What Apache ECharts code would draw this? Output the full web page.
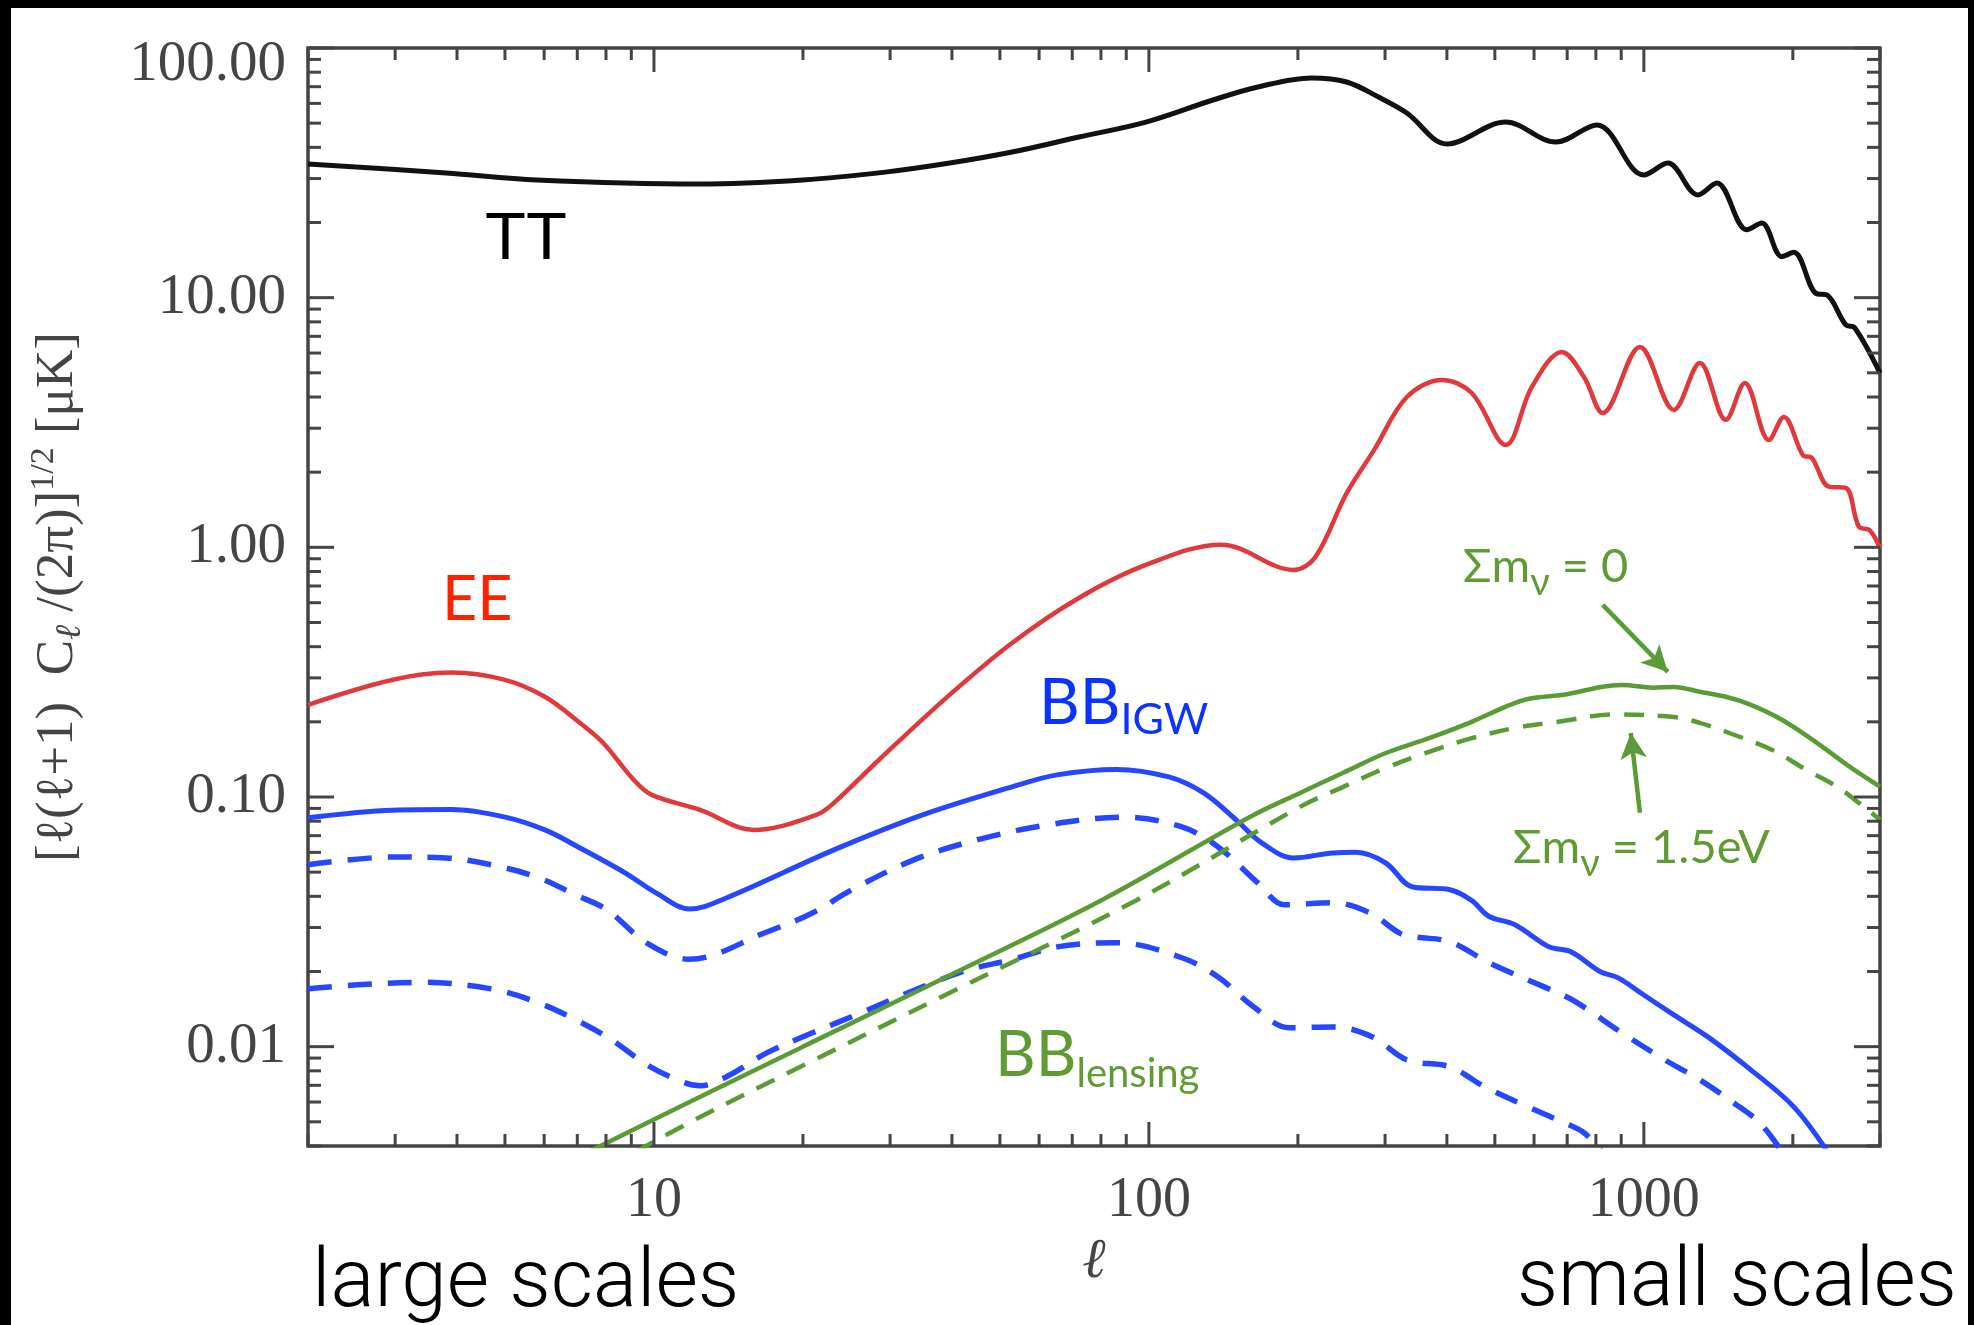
<!DOCTYPE html>
<html>
<head>
<meta charset="utf-8">
<script src="https://cdn.jsdelivr.net/npm/echarts@6/dist/echarts.min.js"></script>
<style>
  html, body { margin: 0; padding: 0; background: #fff; }
  #chart { width: 1974px; height: 1325px; }
</style>
</head>
<body>
<div id="chart"></div>
<script>
// ---------------- data ----------------
const xTickLabels = [10, 100, 1000];
const yTickLabels = [0.01, 0.1, 1, 10, 100];

const ellTT = [2, 3.8, 5.8, 12.4, 20, 29.6, 39.6, 52.9, 72.2, 98.6, 134.7, 166, 213, 251, 291, 332, 400, 526, 664, 804, 1000, 1118, 1286, 1404, 1615, 1731, 1900, 2009, 2226, 2343, 2559, 2669, 3000];
const valTT = [34.3, 31.6, 29.6, 28.5, 29.6, 31.9, 34.6, 38.3, 44.0, 50.5, 61.9, 69.8, 75.9, 73.1, 63.6, 54.9, 41.3, 50.5, 42.0, 49.2, 31.0, 34.6, 25.8, 28.8, 18.7, 19.9, 14.6, 15.2, 10.4, 10.25, 7.78, 7.56, 4.99];

const ellEE = [2, 2.97, 3.9, 4.98, 6.02, 7.09, 7.89, 9.11, 9.9, 12.4, 15.9, 21.3, 23.1, 28.5, 38.9, 52.9, 72.2, 98.6, 140, 196, 217, 251, 285, 332, 391, 449, 526, 594, 683, 757, 826, 982, 1150, 1298, 1464, 1600, 1789, 1918, 2096, 2185, 2364, 2559, 2719, 2861, 3000];
const valEE = [0.234, 0.295, 0.315, 0.295, 0.252, 0.198, 0.165, 0.117, 0.102, 0.0888, 0.0738, 0.0848, 0.0947, 0.141, 0.249, 0.414, 0.627, 0.85, 1.025, 0.812, 0.915, 1.65, 2.45, 4.0, 4.68, 4.15, 2.57, 4.39, 6.06, 4.81, 3.45, 6.35, 3.55, 5.48, 3.24, 4.55, 2.69, 3.33, 2.34, 2.28, 1.75, 1.73, 1.21, 1.17, 0.994];

const ellBBigw = [2, 2.97, 3.9, 4.98, 6.02, 7.09, 8.74, 10.1, 11.8, 14.0, 23.1, 34.9, 52.9, 65.2, 86, 109.7, 129, 150, 169, 196, 236, 262, 301, 340, 406, 449, 486, 549, 643, 712, 819, 886, 1000, 1150, 1347, 1645, 2009, 2360];
const valBBigw = [0.0825, 0.0885, 0.089, 0.0832, 0.0738, 0.0625, 0.0497, 0.0413, 0.0356, 0.0394, 0.0614, 0.0848, 0.1098, 0.1226, 0.129, 0.1203, 0.1038, 0.081, 0.0655, 0.057, 0.0597, 0.060, 0.0544, 0.0437, 0.0425, 0.0385, 0.0333, 0.0308, 0.0251, 0.024, 0.0199, 0.0189, 0.0161, 0.0134, 0.01094, 0.00807, 0.00574, 0.00375];

const ellBBdashA = [2, 2.97, 3.8, 4.69, 5.78, 6.96, 8.04, 9.68, 11.8, 16.9, 20.9, 25.1, 33.5, 44.9, 62.5, 89, 116.6, 138, 166, 188, 236, 280, 321, 346, 406, 486, 583, 699, 757, 903, 1103, 1298, 1520, 1715, 1900];
const valBBdashA = [0.0535, 0.0575, 0.057, 0.0535, 0.0479, 0.0405, 0.0353, 0.026, 0.0224, 0.0288, 0.0343, 0.0425, 0.056, 0.0673, 0.0773, 0.083, 0.0759, 0.0631, 0.0453, 0.037, 0.0377, 0.0343, 0.0285, 0.0275, 0.0263, 0.0217, 0.0185, 0.0158, 0.0144, 0.01136, 0.00885, 0.00736, 0.00595, 0.00495, 0.0038];

const ellBBdashB = [2, 2.51, 3.4, 4.69, 5.78, 6.96, 8.22, 9.68, 11.4, 12.4, 14.0, 16.9, 20.9, 25.6, 34.9, 43.1, 52.9, 65.2, 86, 116.6, 138, 163, 192, 236, 283, 332, 406, 477, 583, 683, 757, 830];
const valBBdashB = [0.01704, 0.01768, 0.0181, 0.01704, 0.01511, 0.0128, 0.01064, 0.00846, 0.00723, 0.00697, 0.00757, 0.00944, 0.01136, 0.0134, 0.01736, 0.0203, 0.0223, 0.0251, 0.0261, 0.0227, 0.019, 0.0144, 0.0119, 0.012, 0.01094, 0.00885, 0.0083, 0.0069, 0.00574, 0.005, 0.00452, 0.0037];

const ellLens0 = [7.2, 12.4, 20, 40, 80.4, 160, 202, 247, 301, 368, 449, 526, 583, 699, 819, 903, 1043, 1150, 1298, 1464, 1645, 1900, 2226, 2608, 3000];
const valLens0 = [0.0037, 0.0063, 0.0100, 0.0195, 0.0387, 0.0832, 0.1038, 0.125, 0.150, 0.172, 0.200, 0.230, 0.247, 0.258, 0.276, 0.281, 0.274, 0.276, 0.264, 0.252, 0.234, 0.204, 0.166, 0.132, 0.110];

const ellLens15 = [9.2, 12.4, 20, 40, 94.6, 202, 247, 301, 368, 449, 549, 671, 870, 1150, 1298, 1492, 1822, 2135, 2455, 2719, 3000];
const valLens15 = [0.0038, 0.00523, 0.0084, 0.0166, 0.0387, 0.0913, 0.1098, 0.1308, 0.1516, 0.172, 0.189, 0.200, 0.214, 0.209, 0.198, 0.180, 0.154, 0.128, 0.110, 0.0947, 0.081];

// ---------------- helpers ----------------
const pairs = (ls, vs) => ls.map((l, i) => [l, vs[i]]);

// minor/major tick positions of the log axes (boxed IDL-style frame)
const tickData = [];
for (let d = 1; d <= 1000; d *= 10) {
  for (let k = 1; k <= 9; k++) {
    const v = k * d;
    if (v < 2 || v > 3000) continue;
    tickData.push([v, 1, k === 1 ? 1 : 0]);
  }
}
for (let d = 0.001; d <= 100; d *= 10) {
  for (let k = 1; k <= 9; k++) {
    const v = +(k * d).toPrecision(6);
    if (v < 0.004 || v > 100.0001) continue;
    tickData.push([10, v, k === 1 ? 3 : 2]);
  }
}

const GREEN = '#5b9b36';
const GREEN_TXT = '#5f9a33';
const BLUE = '#2647ff';
const RED = '#e0393b';
const AX = '#444';
const SERIF = '"Liberation Serif", "DejaVu Serif", serif';
const GILL = 'Lato, "Open Sans", sans-serif';
const SM = 0.35;

function isPow10(v) {
  const e = Math.log10(v);
  return Math.abs(e - Math.round(e)) < 1e-6;
}

const chart = echarts.init(document.getElementById('chart'), null, { renderer: 'canvas' });

const option = {
  animation: false,
  backgroundColor: '#fff',
  grid: {
    left: 308, top: 48, width: 1572, height: 1098,
    show: true, borderColor: AX, borderWidth: 3.5, backgroundColor: 'transparent',
    outerBoundsMode: 'none'
  },
  xAxis: {
    type: 'log', logBase: 10, min: 2, max: 3000,
    axisLine: { show: false },
    axisTick: { show: false },
    splitLine: { show: false },
    axisLabel: {
      margin: 27, fontFamily: SERIF, fontSize: 56, color: AX,
      formatter: v => (isPow10(v) && xTickLabels.some(t => Math.abs(t - v) < 1e-6)) ? String(Math.round(v)) : ''
    },
    name: 'ℓ', nameLocation: 'middle', nameGap: 88,
    nameTextStyle: { fontFamily: SERIF, fontStyle: 'italic', fontSize: 56, color: AX, lineHeight: 56 }
  },
  yAxis: {
    type: 'log', logBase: 10, min: 0.004, max: 100,
    axisLine: { show: false },
    axisTick: { show: false },
    splitLine: { show: false },
    axisLabel: {
      margin: 22, fontFamily: SERIF, fontSize: 57, color: AX,
      formatter: v => {
        if (!isPow10(v) || !yTickLabels.some(t => Math.abs(t / v - 1) < 1e-6)) return '';
        if (v >= 99) return '{t|' + v.toFixed(2) + '}';
        return v.toFixed(2);
      },
      rich: { t: { fontFamily: SERIF, fontSize: 57, color: AX, padding: [34, 0, 0, 0] } }
    },
    name: '{m|[ℓ(ℓ+1)  C}{s|ℓ}{m| /(2π)]}{p|1/2}{m| [μK]}',
    nameLocation: 'middle', nameGap: 219, nameRotate: 90,
    nameTextStyle: {
      rich: {
        m: { fontFamily: SERIF, fontSize: 53, color: AX, lineHeight: 62 },
        s: { fontFamily: SERIF, fontStyle: 'italic', fontSize: 36, color: AX, lineHeight: 42, verticalAlign: 'bottom' },
        p: { fontFamily: SERIF, fontSize: 34, color: AX, lineHeight: 38, verticalAlign: 'top' }
      }
    }
  },
  graphic: [
    { type: 'rect', shape: { x: 0, y: 0, width: 1974, height: 8 }, style: { fill: '#000' }, z: 100 },
    { type: 'rect', shape: { x: 0, y: 0, width: 11, height: 1325 }, style: { fill: '#000' }, z: 100 },
    { type: 'rect', shape: { x: 1968, y: 0, width: 6, height: 1325 }, style: { fill: '#000' }, z: 100 },
    { type: 'text', x: 485, y: 241, z: 100,
      style: { text: 'TT', fontFamily: '"Liberation Sans", Arial, sans-serif', fontSize: 67, fill: '#000', align: 'left', verticalAlign: 'middle' } },
    { type: 'text', x: 442, y: 600, z: 100,
      style: { text: 'EE', fontFamily: GILL, fontSize: 61, fill: '#ff2200', align: 'left', verticalAlign: 'middle' } },
    { type: 'text', x: 1039, y: 704, z: 100,
      style: { text: '{a|BB}{s|IGW}', align: 'left', verticalAlign: 'middle',
        rich: { a: { fontFamily: GILL, fontSize: 63, fill: '#0a33ff', lineHeight: 76 },
                s: { fontFamily: GILL, fontSize: 43, fill: '#0a33ff', lineHeight: 48, verticalAlign: 'bottom' } } } },
    { type: 'text', x: 995, y: 1056, z: 100,
      style: { text: '{a|BB}{s|lensing}', align: 'left', verticalAlign: 'middle',
        rich: { a: { fontFamily: GILL, fontSize: 63, fill: GREEN_TXT, lineHeight: 76 },
                s: { fontFamily: GILL, fontSize: 40, fill: GREEN_TXT, lineHeight: 56, verticalAlign: 'bottom' } } } },
    { type: 'text', x: 1463, y: 567, z: 100,
      style: { text: '{a|Σm}{s|ν}{a| = 0}', align: 'left', verticalAlign: 'middle',
        rich: { a: { fontFamily: GILL, fontSize: 47, fill: GREEN_TXT, lineHeight: 70 },
                s: { fontFamily: GILL, fontSize: 38, fill: GREEN_TXT, lineHeight: 62, verticalAlign: 'bottom' } } } },
    { type: 'text', x: 1513, y: 848, z: 100,
      style: { text: '{a|Σm}{s|ν}{a| = 1.5eV}', align: 'left', verticalAlign: 'middle',
        rich: { a: { fontFamily: GILL, fontSize: 47, fill: GREEN_TXT, lineHeight: 70 },
                s: { fontFamily: GILL, fontSize: 38, fill: GREEN_TXT, lineHeight: 62, verticalAlign: 'bottom' } } } },
    { type: 'text', x: 312, y: 1285, z: 100,
      style: { text: 'large scales', fontFamily: 'Roboto, "Liberation Sans", sans-serif', fontWeight: 300, fontSize: 82, fill: '#000', align: 'left', verticalAlign: 'middle' } },
    { type: 'text', x: 1517, y: 1285, z: 100,
      style: { text: 'small scales', fontFamily: 'Roboto, "Liberation Sans", sans-serif', fontWeight: 300, fontSize: 81, fill: '#000', align: 'left', verticalAlign: 'middle' } }
  ],
  series: [
    { name: 'TT', type: 'line', data: pairs(ellTT, valTT), showSymbol: false, smooth: SM,
      lineStyle: { color: '#111', width: 5 }, z: 3 },
    { name: 'EE', type: 'line', data: pairs(ellEE, valEE), showSymbol: false, smooth: SM,
      lineStyle: { color: RED, width: 4.5 }, z: 3 },
    { name: 'BB IGW', type: 'line', data: pairs(ellBBigw, valBBigw), showSymbol: false, smooth: SM,
      lineStyle: { color: BLUE, width: 5 }, z: 3 },
    { name: 'BB IGW (dashed, upper)', type: 'line', data: pairs(ellBBdashA, valBBdashA), showSymbol: false, smooth: SM,
      lineStyle: { color: BLUE, width: 5.5, type: [24, 16] }, z: 3 },
    { name: 'BB IGW (dashed, lower)', type: 'line', data: pairs(ellBBdashB, valBBdashB), showSymbol: false, smooth: SM,
      lineStyle: { color: BLUE, width: 5.5, type: [24, 16] }, z: 3 },
    { name: 'BB lensing Σmν=0', type: 'line', data: pairs(ellLens0, valLens0), showSymbol: false, smooth: SM,
      lineStyle: { color: GREEN, width: 4.5 }, z: 3,
      markLine: {
        silent: true, symbol: ['none', 'arrow'], symbolSize: [20, 26],
        label: { show: false },
        lineStyle: { color: GREEN, width: 4.5, type: 'solid' },
        emphasis: { disabled: true },
        data: [
          [{ coord: [826, 0.588] }, { coord: [1118, 0.317] }],
          [{ coord: [982, 0.0864] }, { coord: [941, 0.1805] }]
        ]
      } },
    { name: 'BB lensing Σmν=1.5eV', type: 'line', data: pairs(ellLens15, valLens15), showSymbol: false, smooth: SM,
      lineStyle: { color: GREEN, width: 4.5, type: [20, 14] }, z: 3 },
    { name: 'ticks', type: 'custom', data: tickData, silent: true, z: 10, clip: false,
      renderItem: (params, api) => {
        const cs = params.coordSys;
        const kind = api.value(2);
        const st = { stroke: AX, lineWidth: 3 };
        if (kind < 2) {
          const px = api.coord([api.value(0), 1])[0];
          const len = kind === 1 ? 24 : 12;
          const yb = cs.y + cs.height;
          return { type: 'group', children: [
            { type: 'line', shape: { x1: px, y1: yb, x2: px, y2: yb - len }, style: st },
            { type: 'line', shape: { x1: px, y1: cs.y, x2: px, y2: cs.y + len }, style: st }
          ] };
        }
        const py = api.coord([10, api.value(1)])[1];
        const len = kind === 3 ? 26 : 13;
        const xr = cs.x + cs.width;
        return { type: 'group', children: [
          { type: 'line', shape: { x1: cs.x, y1: py, x2: cs.x + len, y2: py }, style: st },
          { type: 'line', shape: { x1: xr, y1: py, x2: xr - len, y2: py }, style: st }
        ] };
      }
    }
  ]
};

chart.setOption(option);
</script>
</body>
</html>
